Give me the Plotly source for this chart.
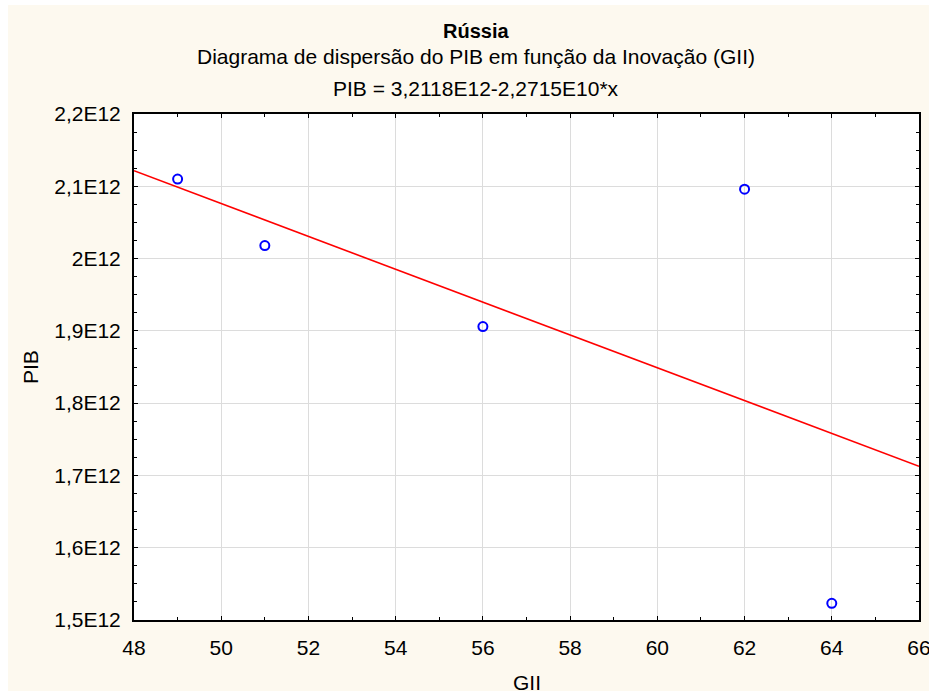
import plotly.graph_objects as go

# Observations: Global Innovation Index score vs. GDP (Russia)
gii = [49, 51, 56, 62, 64]
pib = [2.110e12, 2.018e12, 1.906e12, 2.096e12, 1.523e12]

# Fitted regression: PIB = 3,2118E12 - 2,2715E10 * x
intercept = 3.2118e12
slope = -2.2715e10

x_range = [48, 66]
x_ticks = [48, 50, 52, 54, 56, 58, 60, 62, 64, 66]
y_ticks = [1.5e12, 1.6e12, 1.7e12, 1.8e12, 1.9e12, 2.0e12, 2.1e12, 2.2e12]
y_tick_labels = ["1,5E12", "1,6E12", "1,7E12", "1,8E12", "1,9E12", "2E12", "2,1E12", "2,2E12"]

title = "Rússia"
subtitle = "Diagrama de dispersão do PIB em função da Inovação (GII)"
equation = "PIB = 3,2118E12-2,2715E10*x"

FONT = "Arial, Liberation Sans, sans-serif"
CREAM = "#FDF9EF"

# Page geometry (pixels)
W, H = 929, 693
L, R, T, B = 134, 10, 114, 73
PW, PH = W - L - R, H - T - B


def px_x(p):
    return (p - L) / PW


def px_y(p):
    return (H - B - p) / PH


fit_x = x_range
fit_y = [intercept + slope * v for v in fit_x]

fig = go.Figure()
fig.add_trace(go.Scatter(
    x=fit_x, y=fit_y, mode="lines",
    line=dict(color="#FF0000", width=1.6),
    hoverinfo="skip", showlegend=False,
))
fig.add_trace(go.Scatter(
    x=gii, y=pib, mode="markers",
    marker=dict(symbol="circle-open", size=9, color="#0000FF",
                line=dict(color="#0000FF", width=2)),
    showlegend=False,
))

axis_common = dict(
    showline=True, linecolor="black", linewidth=2, mirror="allticks",
    ticks="inside", ticklen=4, tickwidth=1, tickcolor="black",
    showgrid=True, gridcolor="#DCDCDC", gridwidth=1,
    zeroline=False, automargin=False, ticklabeloverflow="allow",
    tickfont=dict(family=FONT, size=21, color="black"),
)

fig.update_xaxes(
    range=x_range, tickvals=x_ticks, ticklabelstandoff=8,
    minor=dict(dtick=1, ticks="inside", ticklen=3, tickcolor="black", showgrid=False),
    **axis_common,
)
fig.update_yaxes(
    range=[y_ticks[0], y_ticks[-1]], tickvals=y_ticks, ticktext=y_tick_labels,
    ticklabelstandoff=7,
    minor=dict(dtick=0.025e12, ticks="inside", ticklen=3, tickcolor="black", showgrid=False),
    **axis_common,
)

shapes = [
    # cream page panel
    dict(type="rect", xref="paper", yref="paper", layer="below",
         x0=px_x(8), x1=px_x(W + 5), y0=px_y(H - 2), y1=px_y(5),
         fillcolor=CREAM, line=dict(width=0)),
    # white plotting area
    dict(type="rect", xref="paper", yref="paper", layer="below",
         x0=0, x1=1, y0=0, y1=1, fillcolor="white", line=dict(width=0)),
]

cx = px_x(476)
annotations = [
    dict(text="<b>" + title + "</b>", x=cx, y=px_y(31), size=20),
    dict(text=subtitle, x=cx, y=px_y(56), size=21),
    dict(text=equation, x=cx, y=px_y(88), size=21),
    dict(text="GII", x=0.5, y=px_y(682), size=21),
    dict(text="PIB", x=px_x(30), y=0.5, textangle=-90, size=21),
]
for a in annotations:
    size = a.pop("size")
    a.update(xref="paper", yref="paper", showarrow=False,
             xanchor="center", yanchor="middle",
             font=dict(family=FONT, size=size, color="black"))

fig.update_layout(
    width=W, height=H, autosize=False,
    margin=dict(l=L, r=R, t=T, b=B, pad=0, autoexpand=False),
    paper_bgcolor="white", plot_bgcolor="rgba(0,0,0,0)",
    shapes=shapes, annotations=annotations,
    font=dict(family=FONT, size=21, color="black"),
    showlegend=False,
)

fig.write_html(
    "out.html",
    config={"responsive": False},
    default_width=W, default_height=H,
    post_script="document.body.style.margin='0';document.body.style.overflow='hidden';",
)
